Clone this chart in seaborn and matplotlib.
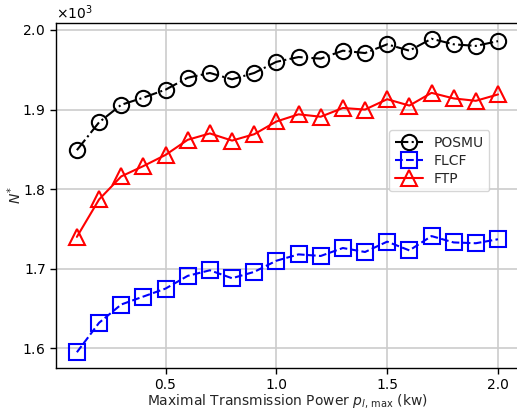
import matplotlib
matplotlib.use("Agg")
import matplotlib.pyplot as plt
import seaborn as sns
import numpy as np
import pandas as pd

# Maximal transmission power (kW)
power = [0.1, 0.2, 0.3, 0.4, 0.5, 0.6, 0.7, 0.8, 0.9, 1.0,
         1.1, 1.2, 1.3, 1.4, 1.5, 1.6, 1.7, 1.8, 1.9, 2.0]

posmu = [1849, 1884, 1906, 1915, 1925, 1940, 1946, 1938, 1946, 1960,
         1966, 1964, 1974, 1971, 1982, 1974, 1989, 1982, 1980, 1986]
flcf = [1595, 1632, 1655, 1665, 1675, 1691, 1698, 1688, 1696, 1710,
        1718, 1716, 1726, 1721, 1734, 1723, 1741, 1733, 1732, 1737]
ftp = [1740, 1787, 1816, 1829, 1843, 1862, 1870, 1861, 1869, 1885,
       1894, 1891, 1902, 1900, 1913, 1905, 1921, 1914, 1911, 1919]

series_names = ["POSMU", "FLCF", "FTP"]

sns.set_style("ticks")
plt.rcParams["font.family"] = ["DejaVu Sans"]
plt.rcParams["font.size"] = 10
plt.rcParams["mathtext.fontset"] = "dejavusans"

fig = plt.figure(figsize=(5.17, 4.12), dpi=100)
ax = fig.add_axes([0.108, 0.107, 0.896, 0.837])

styles = [
    dict(data=posmu, color="black", marker="o", linestyle="-."),
    dict(data=flcf, color="blue", marker="s", linestyle="--"),
    dict(data=ftp, color="red", marker="^", linestyle="-"),
]

for name, st in zip(series_names, styles):
    df = pd.DataFrame({"power": power, "value": st["data"]})
    sns.lineplot(data=df, x="power", y="value", ax=ax, color=st["color"],
                 marker=st["marker"], linestyle=st["linestyle"], linewidth=1.5,
                 markersize=11, markerfacecolor="none",
                 markeredgecolor=st["color"], markeredgewidth=1.5,
                 label=name)

ax.margins(x=0.05, y=0.05)
ax.grid(True, color="#cccccc", linewidth=1.2)
ax.set_axisbelow(True)
ax.set_xticks([0.5, 1.0, 1.5, 2.0])
ax.set_yticks([1600, 1700, 1800, 1900, 2000])
ax.ticklabel_format(axis="y", style="sci", scilimits=(3, 3), useMathText=True)

for sp in ax.spines.values():
    sp.set_color("black")
    sp.set_linewidth(1.0)
ax.spines["right"].set_visible(False)

ax.tick_params(axis="both", direction="out", length=4, width=1, labelsize=10,
               colors="black")

ax.set_xlabel(r"Maximal Transmission Power $p_{l,\,\mathrm{max}}$ (kw)",
              fontsize=10, labelpad=0)
ax.set_ylabel(r"$N^{*}$", fontsize=10, labelpad=-1)

ax.legend(loc="upper left", bbox_to_anchor=(0.705, 0.71), fontsize=10,
          framealpha=0.8, edgecolor="#cccccc", handlelength=2.0,
          labelspacing=0.3)

fig.savefig("out.png", dpi=100)
